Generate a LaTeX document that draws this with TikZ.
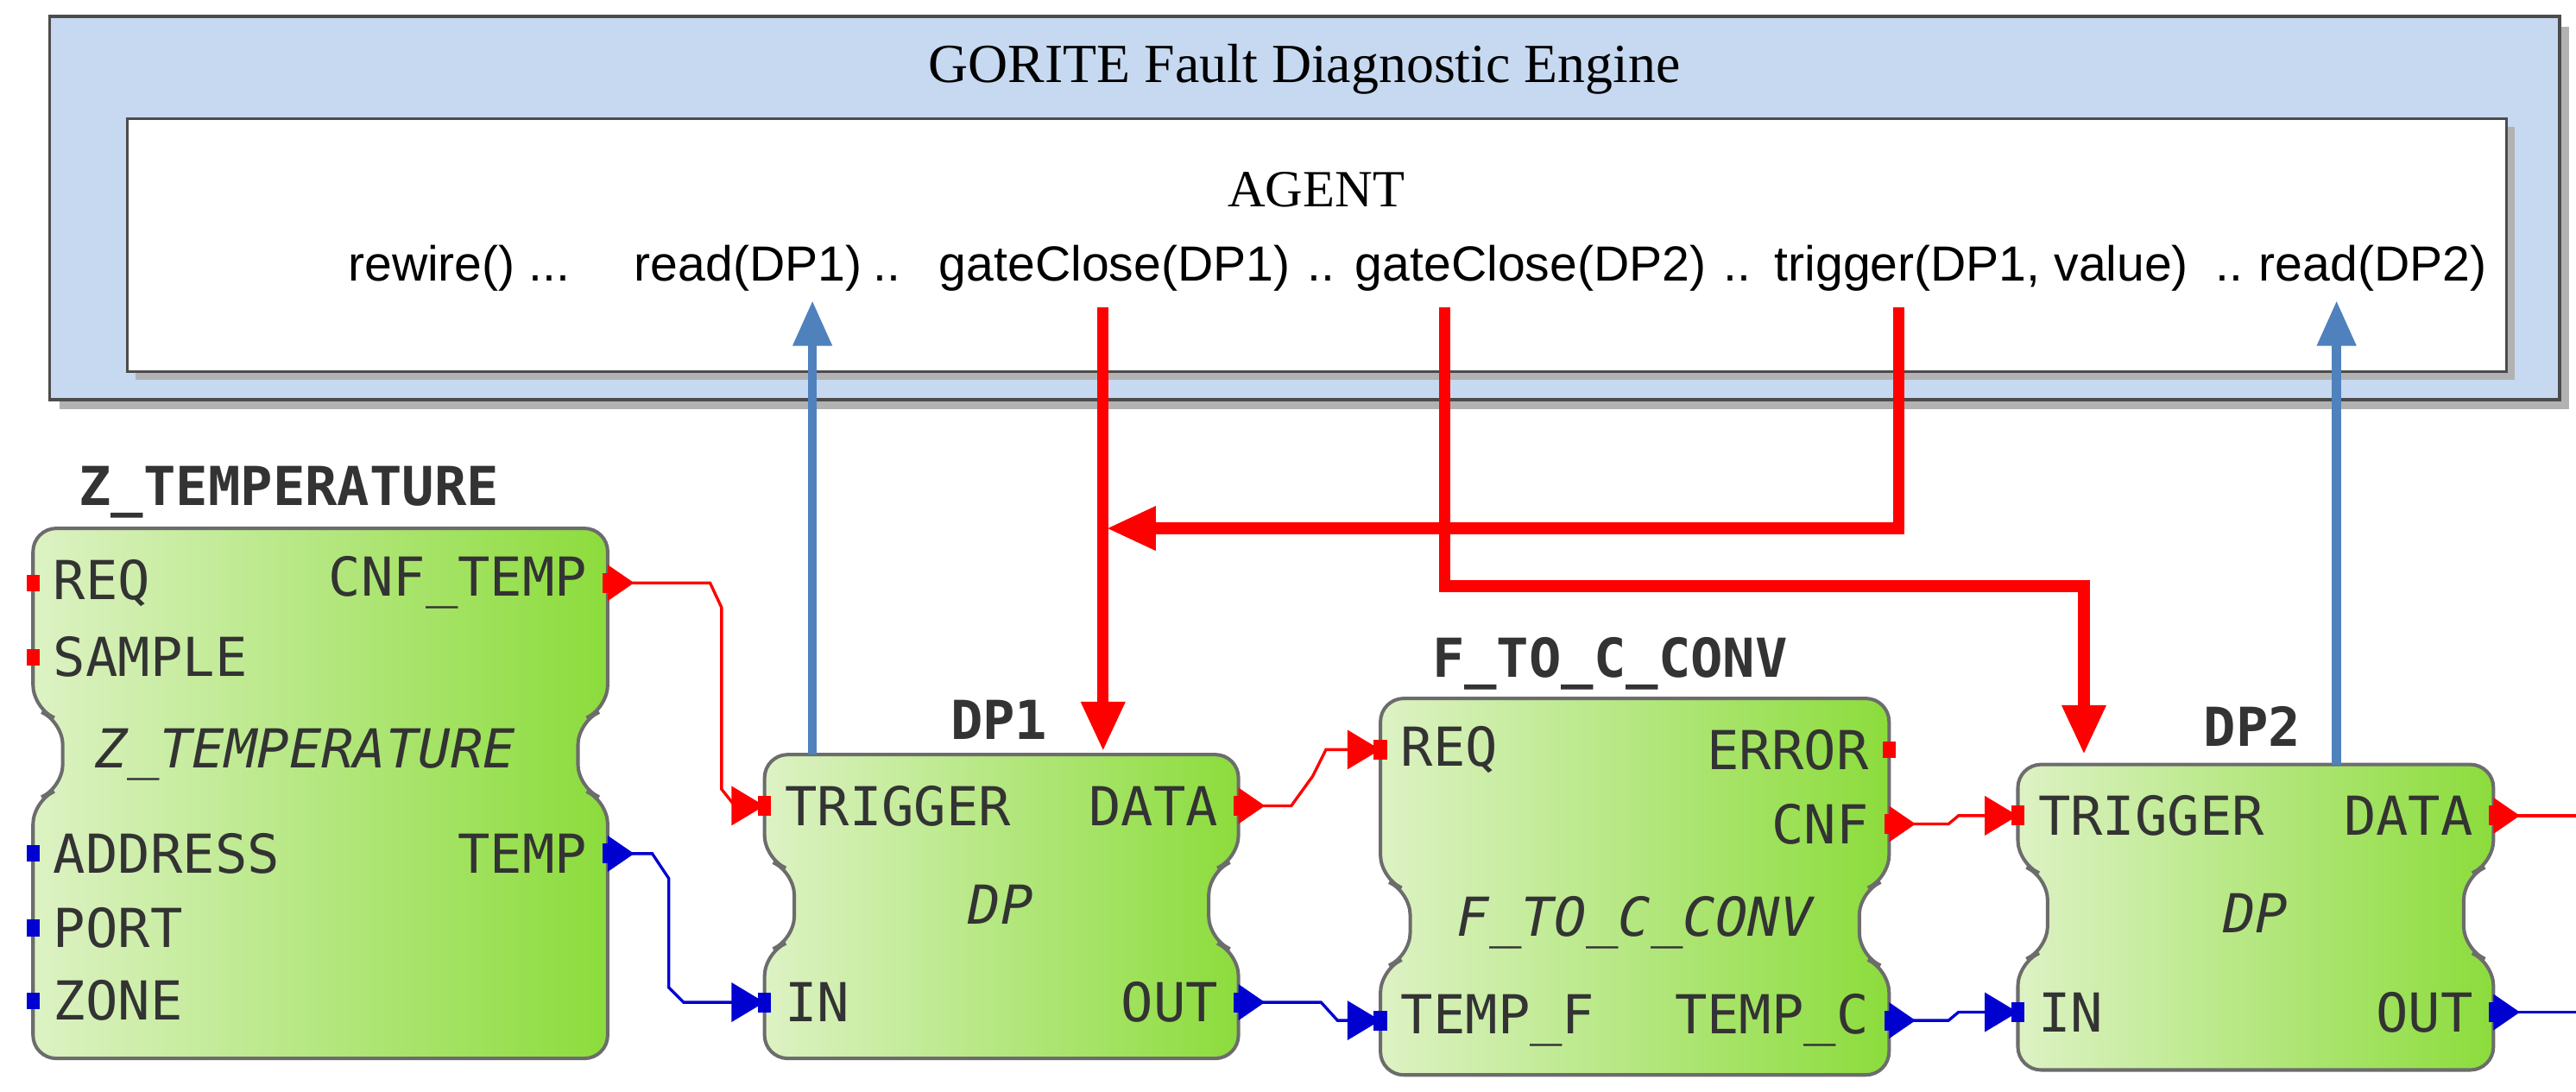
\documentclass[tikz,border=0pt]{standalone}
\usepackage{fontspec}
\setmainfont{Liberation Serif}
\newfontfamily\monof{DejaVu Sans Mono}
\newfontfamily\sansf{Liberation Sans}
\usetikzlibrary{arrows.meta}
\definecolor{boxblue}{HTML}{C6D9F0}
\definecolor{arrblue}{HTML}{4F81BD}
\definecolor{evred}{HTML}{FF0000}
\definecolor{datblue}{HTML}{0000D0}
\definecolor{gLight}{HTML}{DDF2C4}
\definecolor{gDark}{HTML}{8CDC3C}
\newcommand\blockshape[6]{% x1 x2 top w1 w2 bot
  \shade[left color=gLight,right color=gDark,draw=gray!85!black,line width=1.2pt,rounded corners=8]
   (#1,#3) -- (#2,#3) -- (#2,#4) -- (#2-18,#4+8) -- (#2-18,#5-8) -- (#2,#5) -- (#2,#6) -- (#1,#6) -- (#1,#5) -- (#1+18,#5-8) -- (#1+18,#4+8) -- (#1,#4) -- cycle;}
\newcommand\outtri[3]{\fill[#1] (#2-3,#3-6) rectangle (#2+3,#3+6); \fill[#1] (#2,#3-11) -- (#2+16,#3) -- (#2,#3+11) -- cycle;}
\newcommand\intri[3]{\fill[#1] (#2-4,#3-6) rectangle (#2+4,#3+6); \fill[#1] (#2-20,#3-12) -- (#2,#3) -- (#2-20,#3+12) -- cycle;}
\newcommand\sq[3]{\fill[#1] (#2-4,#3-5) rectangle (#2+4,#3+5);}
\begin{document}
\begin{tikzpicture}[x=0.02cm,y=-0.02cm,
  port/.style={font=\monof\fontsize{18.5}{19}\selectfont,text=black!80,inner sep=0pt},
  ttl/.style={font=\monof\bfseries\fontsize{18.5}{19}\selectfont,text=black!80,inner sep=0pt},
  typ/.style={font=\monof\itshape\fontsize{18.5}{19}\selectfont,text=black!80,inner sep=0pt},
  cmd/.style={font=\sansf\fontsize{17}{17}\selectfont,inner sep=1pt,anchor=base},
  redarr/.style={evred,line width=4pt,-{Triangle[length=0.6cm,width=0.5cm]}},
  bluearr/.style={arrblue,line width=3.2pt,-{Triangle[length=0.55cm,width=0.45cm]}},
  evw/.style={evred,line width=1pt},
  daw/.style={datblue,line width=1pt}]
\useasboundingbox (0,0) rectangle (1560,661);
% engine
\fill[gray!60] (36,16) rectangle (1556,248);
\draw[fill=boxblue,draw=black!70,line width=1pt] (30,10) rectangle (1550,242);
\node[font=\fontsize{19}{19}\selectfont] (eng) at (790,42) {GORITE Fault Diagnostic Engine};
\fill[gray!60] (82,77) rectangle (1523,230);
\draw[fill=white,draw=black!70,line width=1pt] (77,72) rectangle (1518,225);
\node[font=\fontsize{18}{18}\selectfont] (agent) at (797,115) {AGENT};
\node[cmd] (rw) at (278,170) {rewire() ...};
\node[cmd] (rd1) at (453,170) {read(DP1)};
\node[cmd] (d1) at (537,170) {..};
\node[cmd] (gc1) at (675,170) {gateClose(DP1)};
\node[cmd] (d2) at (800,170) {..};
\node[cmd] (gc2) at (927,170) {gateClose(DP2)};
\node[cmd] (d3) at (1052,170) {..};
\node[cmd] (tr) at (1200,170) {trigger(DP1, value)};
\node[cmd] (d4) at (1350,170) {..};
\node[cmd] (rd2) at (1437,170) {read(DP2)};
% blocks
\blockshape{20}{368}{320}{429}{485}{641}
\node[ttl] (zt) at (175,298) {Z\_TEMPERATURE};
\node[typ] (zty) at (185,457) {Z\_TEMPERATURE};
\node[port,anchor=west] at (32,353) {REQ};
\node[port,anchor=west] at (32,398) {SAMPLE};
\node[port,anchor=west] at (32,517) {ADDRESS};
\node[port,anchor=west] at (32,562) {PORT};
\node[port,anchor=west] at (32,606) {ZONE};
\node[port,anchor=east] at (356,353) {CNF\_TEMP};
\node[port,anchor=east] at (356,517) {TEMP};
\sq{evred}{20}{353}\sq{evred}{20}{398}\sq{datblue}{20}{517}\sq{datblue}{20}{562}\sq{datblue}{20}{606}

\blockshape{463}{750}{457}{520}{577}{641}
\node[ttl] (dp1t) at (605,436) {DP1};
\node[typ] at (606,548) {DP};
\node[port,anchor=west] at (475,488) {TRIGGER};
\node[port,anchor=west] at (475,607) {IN};
\node[port,anchor=east] at (738,488) {DATA};
\node[port,anchor=east] at (738,607) {OUT};

\blockshape{836}{1144}{423}{532}{587}{651}
\node[ttl] (fct) at (975,402) {F\_TO\_C\_CONV};
\node[typ] at (990,559) {F\_TO\_C\_CONV};
\node[port,anchor=west] at (848,454) {REQ};
\node[port,anchor=west] at (848,618) {TEMP\_F};
\node[port,anchor=east] at (1132,454) {ERROR};
\node[port,anchor=east] at (1132,499) {CNF};
\node[port,anchor=east] at (1132,618) {TEMP\_C};
\sq{evred}{1144}{454}

\blockshape{1222}{1510}{463}{523}{583}{648}
\node[ttl] (dp2t) at (1364,440) {DP2};
\node[typ] at (1366,553) {DP};
\node[port,anchor=west] at (1234,494) {TRIGGER};
\node[port,anchor=west] at (1234,613) {IN};
\node[port,anchor=east] at (1498,494) {DATA};
\node[port,anchor=east] at (1498,613) {OUT};
% port coordinates
\coordinate (zcnf) at (368,353); \coordinate (ztemp) at (368,517);
\coordinate (p1trig) at (463,488); \coordinate (p1in) at (463,607);
\coordinate (p1data) at (750,488); \coordinate (p1out) at (750,607);
\coordinate (freq) at (836,454); \coordinate (ftf) at (836,618);
\coordinate (fcnf) at (1144,499); \coordinate (ftc) at (1144,618);
\coordinate (p2trig) at (1222,494); \coordinate (p2in) at (1222,613);
\coordinate (p2data) at (1510,494); \coordinate (p2out) at (1510,613);
\coordinate (eR) at (1560,494); \coordinate (eB) at (1560,613);
% wires
\draw[evw] (zcnf) -- (430,353) -- (437,368) -- (437,478) -- (445,488) -- (p1trig);
\draw[daw] (ztemp) -- (395,517) -- (405,532) -- (405,598) -- (414,607) -- (p1in);
\draw[evw] (p1data) -- (782,488) -- (795,470) -- (803,454) -- (freq);
\draw[daw] (p1out) -- (800,607) -- (810,618) -- (ftf);
\draw[evw] (fcnf) -- (1180,499) -- (1186,494) -- (p2trig);
\draw[daw] (ftc) -- (1180,618) -- (1186,613) -- (p2in);
\draw[evw] (p2data) -- (eR);
\draw[daw] (p2out) -- (eB);
\outtri{evred}{368}{353}\outtri{datblue}{368}{517}
\intri{evred}{463}{488}\intri{datblue}{463}{607}
\outtri{evred}{750}{488}\outtri{datblue}{750}{607}
\intri{evred}{836}{454}\intri{datblue}{836}{618}
\outtri{evred}{1144}{499}\outtri{datblue}{1144}{618}
\intri{evred}{1222}{494}\intri{datblue}{1222}{613}
\outtri{evred}{1510}{494}\outtri{datblue}{1510}{613}
% agent arrows
\coordinate (a1) at (492,457); \coordinate (a1t) at (492,182);
\coordinate (a2) at (1415,463); \coordinate (a2t) at (1415,182);
\draw[bluearr] (a1) -- (a1t);
\draw[bluearr] (a2) -- (a2t);
\coordinate (g1s) at (668,186); \coordinate (g1e) at (668,455);
\draw[redarr] (g1s) -- (g1e);
\coordinate (ts) at (1150,186); \coordinate (te) at (670,320);
\draw[redarr] (ts) |- (te);
\coordinate (g2s) at (875,186); \coordinate (g2m) at (1262,355); \coordinate (g2e) at (1262,457);
\draw[redarr] (g2s) |- (g2m) -- (g2e);
\end{tikzpicture}
\end{document}
